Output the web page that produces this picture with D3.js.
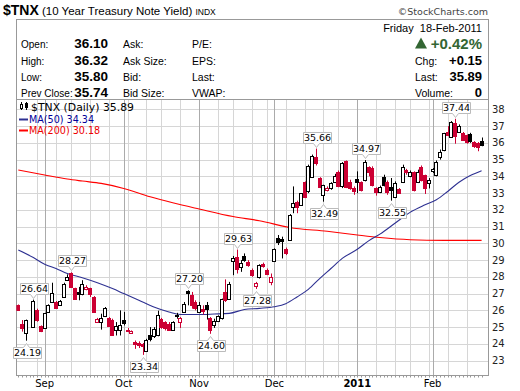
<!DOCTYPE html>
<html>
<head>
<meta charset="utf-8">
<script src="https://cdn.jsdelivr.net/npm/d3@7"></script>
<style>
body{margin:0;background:#fff;}
svg{display:block;}
</style>
</head>
<body>
<svg id="chart" width="520" height="391"></svg>
<script>
//Daily OHLC for $TNX, 23-Aug-2010 .. 18-Feb-2011 (null = no candle drawn)
var opens = [26.3,25.2,24.65,null,25.0,26.0,25.06,24.93,25.92,26.52,26.52,26.3,26.82,27.79,28.21,27.31,27.1,27.0,27.25,27.31,
  26.78,25.32,25.3,25.66,25.52,25.42,24.8,24.8,25.45,24.85,24.62,24.1,24.05,24.0,23.6,24.55,24.45,24.55,25.5,25.3,
  25.2,24.85,25.75,25.28,25.92,27.15,26.9,26.5,25.9,26.1,26.3,25.55,25.15,25.35,25.55,27.1,26.7,28.96,29.2,28.6,
  29.24,28.9,28.4,27.47,28.0,28.75,28.4,27.71,28.96,30.3,30.25,29.64,30.2,32.2,32.48,32.3,33.64,33.1,33.95,35.17,
  33.88,32.88,33.2,33.28,33.68,34.28,33.4,34.9,33.68,33.3,33.85,33.68,33.78,34.57,34.47,33.28,33.08,33.98,33.68,33.38,
  32.78,33.22,33.68,34.4,34.0,34.28,33.68,34.57,34.08,33.58,34.3,34.08,35.17,35.57,36.66,36.36,37.2,36.66,36.56,36.46,
  36.55,36.07,36.0,36.10];
var highs = [26.35,25.42,25.45,null,26.64,26.1,25.1,25.85,26.36,27.65,26.56,26.62,27.65,28.15,28.27,27.35,27.4,27.8,27.5,27.35,
  26.85,25.55,25.8,26.2,25.6,25.5,25.3,26.0,25.9,24.95,24.8,24.2,24.15,24.05,24.3,25.0,25.0,25.98,25.55,25.35,
  25.3,25.35,25.85,25.6,26.5,27.2,27.1,26.6,26.5,26.3,26.5,25.6,25.5,25.7,26.7,27.85,27.7,29.25,29.63,29.0,
  29.4,29.0,28.5,27.7,28.75,28.85,28.5,28.2,29.7,30.5,30.4,29.75,31.75,33.4,32.55,33.0,33.7,34.7,35.3,35.66,
  33.95,33.5,33.4,33.65,34.15,34.35,34.85,34.95,33.8,33.4,34.3,33.7,34.97,34.6,34.6,33.35,33.45,34.1,33.75,33.9,
  33.7,33.3,34.7,34.45,34.35,34.3,34.4,34.65,34.1,33.9,34.5,34.95,35.6,36.6,37.0,37.3,37.44,37.1,36.65,36.5,
  36.6,36.1,36.05,36.32];
var lows = [25.98,24.73,24.19,null,24.95,25.32,24.7,24.9,25.88,26.48,26.1,26.28,26.78,27.75,27.4,26.62,26.6,26.9,27.2,26.8,
  25.9,25.28,24.85,25.6,25.02,24.5,24.5,24.5,25.1,24.7,24.6,23.7,23.75,23.34,23.55,24.15,24.35,24.45,24.9,24.8,
  24.8,24.8,25.5,24.95,25.88,26.3,26.1,26.0,25.85,25.75,25.45,24.6,24.95,25.3,25.45,26.5,26.65,28.1,28.2,28.3,
  28.9,28.6,28.0,27.28,27.9,28.55,28.1,27.5,28.9,29.9,29.1,29.3,30.15,31.8,31.8,32.25,32.7,33.0,33.9,34.65,
  33.3,32.49,33.1,33.2,33.6,33.35,33.3,33.3,33.2,32.9,33.0,33.1,33.7,34.0,33.4,32.85,33.0,33.4,32.9,32.55,
  32.7,32.95,33.6,34.1,33.95,33.1,33.6,33.7,32.95,33.28,34.2,34.0,35.0,35.5,36.4,36.3,35.95,36.6,36.15,35.95,
  36.0,35.7,35.5,35.80];
var closes = [26.0,24.95,25.4,null,26.55,25.42,24.75,25.82,26.32,27.06,26.12,26.55,27.6,27.97,27.41,26.66,27.0,27.6,27.42,27.0,
  25.92,25.5,25.55,26.12,25.05,24.55,25.06,25.12,25.26,24.78,24.74,24.0,23.95,23.9,24.25,24.3,24.9,25.75,25.0,24.95,
  24.85,25.3,25.65,25.55,26.4,27.05,26.3,26.15,26.3,25.95,26.1,24.8,25.35,25.65,26.68,26.6,27.6,29.14,28.45,28.8,
  29.0,28.7,28.1,27.65,28.7,28.65,28.2,27.98,29.64,30.1,30.15,29.4,31.69,32.4,32.2,32.98,32.78,34.6,35.2,34.77,
  33.38,33.48,33.32,33.58,34.05,33.4,34.77,33.38,33.32,33.1,33.68,33.2,34.87,34.28,33.48,33.05,33.38,33.48,33.04,33.18,
  33.58,33.0,34.57,34.25,34.28,33.18,34.28,33.78,33.28,33.78,34.42,34.87,35.47,36.56,36.46,37.26,36.4,37.0,36.2,36.07,
  36.1,35.8,35.74,35.89];
var priorClose = 26.45;

//Moving averages read at a few candle positions
var ma50Idx = [0,4,7,10,13,17,21,25,28,32,36,40,43,48,52,56,60,64,68,71,74,77,80,83,86,90,93,96,100,104,108,111,114,117,120,123];
var ma50Val = [29.6,29.15,28.75,28.5,28.2,27.95,27.65,27.3,27.0,26.6,26.2,25.9,25.75,25.75,25.78,25.82,26.05,26.12,26.22,26.4,
  26.8,27.25,27.9,28.5,29.1,29.65,30.15,30.55,31.2,31.85,32.3,32.6,33.1,33.65,34.05,34.34];
var ma200Idx = [0,7,13,17,22,28,35,41,48,57,64,72,82,90,96,104,113,123];
var ma200Val = [34.38,34.08,33.84,33.72,33.58,33.28,32.78,32.42,32.05,31.6,31.35,30.95,30.72,30.5,30.35,30.22,30.18,30.18];

//High / low callouts
var noteIdx  = [2,4,14,33,45,51,58,63,79,81,92,99,116];
var noteType = ["low","high","high","low","high","low","high","low","high","low","high","low","high"];

var priceTicks = [23,24,25,26,27,28,29,30,31,32,33,34,35,36,37,38];
var holidays = ["2010-09-06","2010-10-11","2010-11-11","2010-11-25","2010-12-24","2011-01-17"];
var firstDay = "2010-08-23";

//Quote header
var rowLabelsA = ["Open:","High:","Low:","Prev Close:"];
var rowValuesA = ["36.10","36.32","35.80","35.74"];
var rowLabelsB = ["Ask:","Ask Size:","Bid:","Bid Size:"];
var rowLabelsC = ["P/E:","EPS:","Last:","VWAP:"];
var sideLabels = ["Chg:","Last:","Volume:"];
var sideValues = ["+0.15","35.89","0"];

var monthNames = ["Jan","Feb","Mar","Apr","May","Jun","Jul","Aug","Sep","Oct","Nov","Dec"];

var svg = d3.select("#chart");
var plotL = 16.5, plotR = 488.5, plotT = 99.5, plotB = 375.5;
var RED = "#cc0033", BLUE = "#2e3192", MARED = "#ff0000";
var sans = "'Liberation Sans', Arial, sans-serif";
var dv = "'DejaVu Sans', Verdana, sans-serif";

//trading calendar
function tradingDays(start, count, skip){
   var out = [], d = new Date(start + "T12:00:00"), fmt = d3.timeFormat("%Y-%m-%d");
   while(out.length < count){
      var dow = d.getDay();
      if(dow > 0 && dow < 6 && skip.indexOf(fmt(d)) < 0) out.push(new Date(d));
      d.setDate(d.getDate() + 1);
   }
   return out;
}
var days = tradingDays(firstDay, opens.length, holidays);

var x = d3.scalePoint().domain(d3.range(opens.length)).range([18.3, 481.6]);
var y = d3.scaleLinear().domain([22.14, 38.56]).range([375, 100]);

//---- title + header box
var title = svg.append("text").attr("x", 3).attr("y", 15).attr("font-family", sans).attr("fill", "#000");
title.append("tspan").attr("font-weight", "bold").attr("font-size", 14).text("$TNX");
title.append("tspan").attr("font-size", 11.5).text(" (10 Year Treasury Note Yield) ");
title.append("tspan").attr("font-size", 8.5).text("INDX");

svg.append("text").attr("x", 488).attr("y", 15).attr("text-anchor", "end")
   .attr("font-family", dv).attr("font-size", 9.5).attr("fill", "#444").text("\u00A9StockCharts.com");

svg.append("rect").attr("x", plotL).attr("y", 19.5).attr("width", plotR - plotL).attr("height", plotT - 19.5)
   .attr("fill", "#fff").attr("stroke", "#999");

var rowY = [47.5, 64.5, 81, 97];
rowY.forEach(function(ry, k){
   svg.append("text").attr("x", 21).attr("y", ry).attr("font-family", sans).attr("font-size", 10).text(rowLabelsA[k]);
   svg.append("text").attr("x", 108).attr("y", ry).attr("text-anchor", "end").attr("font-family", sans)
      .attr("font-size", 13.5).attr("font-weight", "bold").text(rowValuesA[k]);
   svg.append("text").attr("x", 123).attr("y", ry).attr("font-family", sans).attr("font-size", 10.5).text(rowLabelsB[k]);
   svg.append("text").attr("x", 192).attr("y", ry).attr("font-family", sans).attr("font-size", 10.5).text(rowLabelsC[k]);
});

svg.append("text").attr("x", 482).attr("y", 32).attr("text-anchor", "end").attr("font-family", sans)
   .attr("font-size", 11).attr("xml:space", "preserve").text("Friday  18-Feb-2011");
svg.append("path").attr("d", "M415,48.5L427,48.5L421,37.5Z").attr("fill", "#336633");
svg.append("text").attr("x", 482).attr("y", 48.5).attr("text-anchor", "end").attr("font-family", sans)
   .attr("font-size", 15).attr("font-weight", "bold").attr("fill", "#336633").text("+0.42%");
sideLabels.forEach(function(lbl, k){
   svg.append("text").attr("x", 415).attr("y", rowY[k + 1]).attr("font-family", sans).attr("font-size", 10.5).text(lbl);
   svg.append("text").attr("x", 482).attr("y", rowY[k + 1]).attr("text-anchor", "end").attr("font-family", sans)
      .attr("font-size", 13).attr("font-weight", "bold").text(sideValues[k]);
});

//---- plot frame + grid
svg.append("rect").attr("x", plotL).attr("y", plotT).attr("width", plotR - plotL).attr("height", plotB - plotT)
   .attr("fill", "#fff");

svg.append("defs").append("clipPath").attr("id", "plotClip")
   .append("rect").attr("x", plotL).attr("y", plotT).attr("width", plotR - plotL).attr("height", plotB - plotT);

var weekStarts = [], monthStarts = [];
days.forEach(function(d, i){
   if(i == 0) return;
   var p = days[i - 1];
   if(d.getMonth() != p.getMonth()) monthStarts.push(i);
   else if(d.getDay() < p.getDay()) weekStarts.push(i);
});

svg.selectAll("line.hgrid").data(priceTicks).enter().append("line").attr("class", "hgrid")
   .attr("x1", plotL).attr("x2", plotR)
   .attr("y1", function(d){return Math.round(y(d)) + 0.5;})
   .attr("y2", function(d){return Math.round(y(d)) + 0.5;})
   .attr("stroke", "#d6d6d6");
svg.selectAll("line.wgrid").data(weekStarts).enter().append("line").attr("class", "wgrid")
   .attr("x1", function(d){return Math.round(x(d)) + 0.5;})
   .attr("x2", function(d){return Math.round(x(d)) + 0.5;})
   .attr("y1", plotT).attr("y2", plotB).attr("stroke", "#d6d6d6");
svg.selectAll("line.mgrid").data(monthStarts).enter().append("line").attr("class", "mgrid")
   .attr("x1", function(d){return Math.round(x(d)) + 0.5;})
   .attr("x2", function(d){return Math.round(x(d)) + 0.5;})
   .attr("y1", plotT).attr("y2", plotB).attr("stroke", "#ababab");

//day ticks on the bottom axis
svg.selectAll("line.dtick").data(d3.range(opens.length)).enter().append("line").attr("class", "dtick")
   .attr("x1", function(d){return Math.round(x(d)) + 0.5;})
   .attr("x2", function(d){return Math.round(x(d)) + 0.5;})
   .attr("y1", plotB).attr("y2", plotB + 2).attr("stroke", "#999");

svg.append("rect").attr("x", plotL).attr("y", plotT).attr("width", plotR - plotL).attr("height", plotB - plotT)
   .attr("fill", "none").attr("stroke", "#999");

//month labels
svg.selectAll("text.mlab").data(monthStarts).enter().append("text").attr("class", "mlab")
   .attr("x", function(d){return x(d);}).attr("y", 387).attr("text-anchor", "middle")
   .attr("font-family", dv).attr("font-size", 10)
   .attr("font-weight", function(d){return days[d].getMonth() == 0 ? "bold" : "normal";})
   .text(function(d){return days[d].getMonth() == 0 ? days[d].getFullYear() : monthNames[days[d].getMonth()];});

//price labels
svg.selectAll("text.plab").data(priceTicks).enter().append("text").attr("class", "plab")
   .attr("x", 492).attr("y", function(d){return y(d) + 3.5;})
   .attr("font-family", dv).attr("font-size", 10).attr("fill", "#222").text(function(d){return d;});

//---- moving averages
var plot = svg.append("g").attr("clip-path", "url(#plotClip)");
var maLine = d3.line().x(function(d){return x(d[0]);}).y(function(d){return y(d[1]);}).curve(d3.curveMonotoneX);
plot.append("path").attr("d", maLine(d3.zip(ma200Idx, ma200Val))).attr("fill", "none")
   .attr("stroke", MARED).attr("stroke-width", 1.1);
plot.append("path").attr("d", maLine(d3.zip(ma50Idx, ma50Val))).attr("fill", "none")
   .attr("stroke", BLUE).attr("stroke-width", 1.1);

//---- candles
var candles = [], prev = priorClose;
opens.forEach(function(o, i){
   if(o == null) return;
   candles.push({i: i, o: o, h: highs[i], l: lows[i], c: closes[i], up: closes[i] >= prev, hollow: closes[i] > o});
   prev = closes[i];
});

var cg = plot.selectAll("g.candle").data(candles).enter().append("g").attr("class", "candle");
cg.each(function(d){
   var g = d3.select(this);
   var col = d.up ? "#000" : RED;
   var cx = Math.round(x(d.i));
   var top = Math.round(y(Math.max(d.o, d.c))), bot = Math.round(y(Math.min(d.o, d.c)));
   if(bot - top < 1) bot = top + 1;
   g.append("line").attr("x1", cx + 0.5).attr("x2", cx + 0.5).attr("y1", y(d.h)).attr("y2", top)
      .attr("stroke", col);
   g.append("line").attr("x1", cx + 0.5).attr("x2", cx + 0.5).attr("y1", bot).attr("y2", y(d.l))
      .attr("stroke", col);
   g.append("rect").attr("x", cx - 1.5).attr("y", top + 0.5).attr("width", 3).attr("height", bot - top)
      .attr("fill", d.hollow ? "#fff" : col).attr("stroke", col);
});

//---- callouts
noteIdx.forEach(function(i, k){
   var isHigh = noteType[k] == "high";
   var v = isHigh ? highs[i] : lows[i];
   var cx = Math.round(x(i)) + 0.5, w = 28, h = 11;
   var x0 = Math.round(cx - w / 2) + 0.5, x1 = x0 + w;
   var path, ty;
   if(isHigh){
      var b = Math.round(y(v)) - 6 + 0.5, t = b - h;
      path = "M" + x0 + "," + t + "H" + x1 + "V" + b + "H" + (cx + 3) + "L" + cx + "," + (b + 4) +
         "L" + (cx - 3) + "," + b + "H" + x0 + "Z";
      ty = b - 2.5;
   } else {
      var t2 = Math.round(y(v)) + 6 + 0.5, b2 = t2 + h;
      path = "M" + x0 + "," + t2 + "H" + (cx - 3) + "L" + cx + "," + (t2 - 4) + "L" + (cx + 3) + "," + t2 +
         "H" + x1 + "V" + b2 + "H" + x0 + "Z";
      ty = b2 - 2.5;
   }
   svg.append("path").attr("d", path).attr("fill", "#fff").attr("stroke", "#bbb");
   svg.append("text").attr("x", (x0 + x1) / 2).attr("y", ty).attr("text-anchor", "middle")
      .attr("font-family", dv).attr("font-size", 9.5).attr("fill", "#000").text(v.toFixed(2));
});

//---- legend
var lg = svg.append("g");
lg.append("line").attr("x1", 21.5).attr("x2", 21.5).attr("y1", 102).attr("y2", 110).attr("stroke", "#000");
lg.append("rect").attr("x", 20.5).attr("y", 104.5).attr("width", 2).attr("height", 4).attr("fill", "#fff").attr("stroke", "#000");
lg.append("line").attr("x1", 26.5).attr("x2", 26.5).attr("y1", 102).attr("y2", 110).attr("stroke", "#000");
lg.append("rect").attr("x", 25.5).attr("y", 103.5).attr("width", 2).attr("height", 4).attr("fill", "#000").attr("stroke", "#000");
lg.append("text").attr("x", 31).attr("y", 111).attr("font-family", dv).attr("font-size", 9.6)
   .attr("textLength", 103).attr("lengthAdjust", "spacingAndGlyphs")
   .text("$TNX (Daily) " + closes[closes.length - 1].toFixed(2));
lg.append("line").attr("x1", 19).attr("x2", 28).attr("y1", 119.5).attr("y2", 119.5).attr("stroke", BLUE).attr("stroke-width", 2);
lg.append("text").attr("x", 29).attr("y", 122.5).attr("font-family", dv).attr("font-size", 9.6).attr("fill", "#000099")
   .text("MA(50) " + ma50Val[ma50Val.length - 1].toFixed(2));
lg.append("line").attr("x1", 19).attr("x2", 28).attr("y1", 130.5).attr("y2", 130.5).attr("stroke", MARED).attr("stroke-width", 2);
lg.append("text").attr("x", 29).attr("y", 134).attr("font-family", dv).attr("font-size", 9.6).attr("fill", "#ee0000")
   .text("MA(200) " + ma200Val[ma200Val.length - 1].toFixed(2));
</script>
</body>
</html>
